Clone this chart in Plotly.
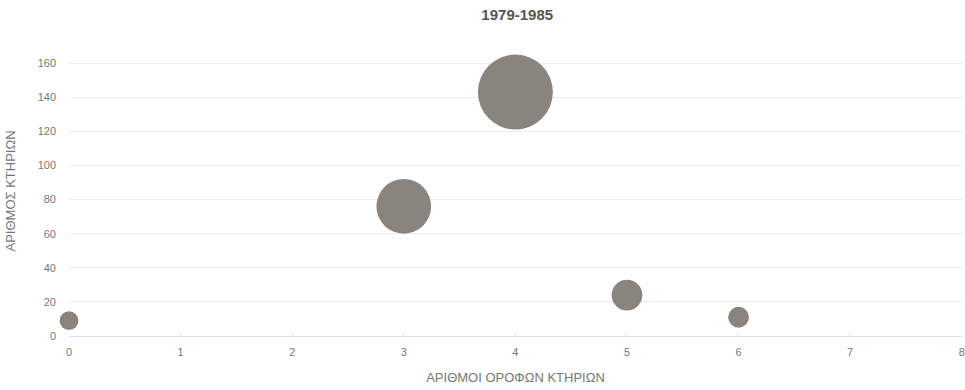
import plotly.graph_objects as go

floors = [0, 3, 4, 5, 6]
buildings = [9, 76, 143, 24, 11]
x_ticks = [0, 1, 2, 3, 4, 5, 6, 7, 8]
y_ticks = [0, 20, 40, 60, 80, 100, 120, 140, 160]
title_text = "1979-1985"
x_title = "ΑΡΙΘΜΟΙ ΟΡΟΦΩΝ ΚΤΗΡΙΩΝ"
y_title = "ΑΡΙΘΜΟΣ ΚΤΗΡΙΩΝ"

max_px = 75
fig = go.Figure(go.Scatter(
    x=floors, y=buildings, mode="markers",
    marker=dict(size=buildings, sizemode="area",
                sizeref=2.0 * max(buildings) / (max_px ** 2),
                color="#8a847f", opacity=1, line=dict(width=0)),
    cliponaxis=False,
    hoverinfo="x+y", showlegend=False,
))

fig.update_layout(
    width=965, height=390,
    margin=dict(l=69, r=3, t=46, b=54, autoexpand=False),
    paper_bgcolor="white", plot_bgcolor="white",
    font=dict(family="Liberation Sans, Arial, sans-serif", color="#777"),
    title=dict(text="<b>" + title_text + "</b>", x=0.536, xanchor="center", y=0.962, yanchor="middle",
               font=dict(size=15, color="#555")),
    xaxis=dict(range=[0, 8.002], tickvals=x_ticks, showgrid=False, zeroline=False,
               showline=True, linecolor="#e0e0e0", linewidth=1, automargin=False,
               ticks="inside", ticklen=3, tickcolor="#e0e0e0", ticklabelstandoff=6,
               tickfont=dict(size=11, color="#777"),
               title=dict(text=x_title, font=dict(size=13, color="#777"), standoff=15)),
    yaxis=dict(range=[0, 170], tickvals=y_ticks, showgrid=True, gridcolor="#ececec",
               zeroline=False, showline=False, ticklabelstandoff=12, automargin=False,
               tickfont=dict(size=11, color="#777"),
               title=dict(text=y_title, font=dict(size=13, color="#777"), standoff=19)),
)

fig.write_html("out.html", config={"displayModeBar": False},
               post_script="document.body.style.margin='0';document.body.style.overflow='hidden';")
